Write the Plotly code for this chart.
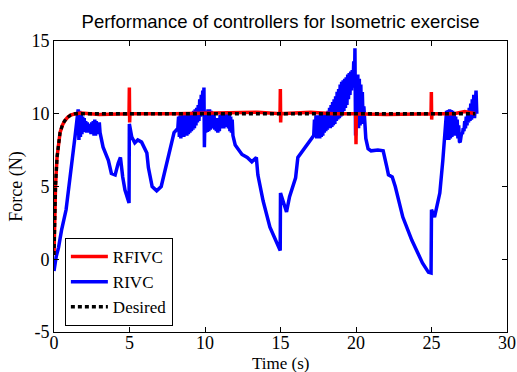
import plotly.graph_objects as go

# ---------------- data ----------------
# RIVC (blue), segment by segment
seg_rise_t = [0.0, 0.15, 0.3, 0.5, 0.8, 1.0, 1.2, 1.4]
seg_rise_f = [-0.8, 0.2, 0.8, 2.0, 3.4, 5.0, 7.0, 8.5]

seg_a_t = [1.60, 1.65, 1.70, 1.75, 1.80, 1.85, 1.90, 1.95, 2.00, 2.05, 2.10, 2.15, 2.20, 2.25,
           2.30, 2.35, 2.40, 2.45, 2.50, 2.55, 2.60, 2.65, 2.70, 2.75, 2.80, 2.85, 2.90, 2.95,
           3.00, 3.05]
seg_a_f = [10.3, 8.2, 10.2, 8.4, 10.0, 8.6, 9.8, 8.75, 9.7, 8.8, 9.5, 8.7, 9.4, 8.7,
           9.3, 8.7, 9.3, 8.6, 9.4, 8.6, 9.5, 8.5, 9.6, 8.5, 9.5, 8.6, 9.4, 8.6,
           9.4, 8.7]

seg_b_t = [3.25, 3.6, 3.8, 4.05, 4.25, 4.4, 4.55, 4.7, 4.97, 4.99, 5.15, 5.35, 5.55, 5.8,
           6.15, 6.25, 6.5, 6.8, 7.1, 7.5, 7.75, 7.95, 8.2]
seg_b_f = [7.7, 6.8, 5.9, 5.8, 6.6, 7.0, 5.65, 4.75, 3.87, 9.3, 8.4, 8.0, 8.2, 8.05,
           7.3, 6.3, 5.0, 4.7, 5.0, 6.8, 8.0, 8.7, 9.0]

seg_c_t = [8.25, 8.30, 8.35, 8.40, 8.45, 8.50, 8.55, 8.60, 8.65, 8.70, 8.75, 8.80, 8.85, 8.90,
           8.95, 9.00, 9.05, 9.10, 9.15, 9.20, 9.25, 9.30, 9.35, 9.40, 9.45, 9.50, 9.55, 9.60,
           9.65, 9.70, 9.75, 9.80, 9.85, 9.90, 9.93, 9.96]
seg_c_f = [9.8, 8.4, 9.9, 8.3, 9.9, 8.4, 9.95, 8.4, 10.0, 8.5, 10.0, 8.5, 10.1, 8.6,
           10.1, 8.7, 10.1, 8.8, 10.1, 8.9, 10.2, 9.0, 10.3, 9.2, 10.4, 9.4, 10.6, 9.5,
           11.0, 9.8, 11.3, 10.0, 11.6, 10.2, 11.8, 7.7]

seg_d_t = [10.00, 10.05, 10.10, 10.15, 10.20, 10.25, 10.30, 10.35, 10.40, 10.45, 10.50, 10.55,
           10.60, 10.65, 10.70, 10.75, 10.80, 10.85, 10.90, 10.95, 11.00, 11.05, 11.10, 11.15,
           11.20, 11.25, 11.30, 11.35, 11.40, 11.45, 11.50, 11.55, 11.60, 11.65, 11.70, 11.75,
           11.80, 11.85]
seg_d_f = [10.0, 8.7, 10.2, 8.75, 10.3, 8.8, 10.3, 8.9, 10.2, 9.0, 10.0, 9.0,
           9.9, 8.9, 9.7, 8.8, 9.6, 8.7, 9.7, 8.8, 9.9, 9.0, 10.1, 9.0,
           10.1, 9.0, 10.1, 9.1, 10.1, 9.2, 10.1, 9.0, 10.0, 8.8, 9.8, 8.7,
           9.6, 8.5]

seg_e_t = [12.0, 12.45, 12.8, 13.1, 13.4, 13.5, 13.65, 13.85, 14.3, 14.75, 14.98, 15.0, 15.4,
           15.6, 16.0, 16.15, 16.75, 17.2]
seg_e_f = [7.85, 7.2, 7.0, 6.7, 7.0, 5.8, 5.0, 4.0, 2.2, 1.1, 0.6, 4.55, 3.25,
           4.3, 5.6, 7.0, 7.85, 8.5]

seg_f_t = [17.25, 17.30, 17.35, 17.40, 17.45, 17.50, 17.55, 17.60, 17.65, 17.70, 17.75, 17.80,
           17.85, 17.90, 17.95, 18.00, 18.05, 18.10, 18.15, 18.20, 18.25, 18.30, 18.35, 18.40,
           18.45, 18.50, 18.55, 18.60, 18.65, 18.70, 18.75, 18.80, 18.85, 18.90, 18.95, 19.00,
           19.05, 19.10, 19.15, 19.20, 19.25, 19.30, 19.35, 19.40, 19.45, 19.50, 19.55, 19.60,
           19.65, 19.70, 19.75, 19.80, 19.85, 19.90, 19.93, 19.97]
seg_f_f = [9.6, 8.4, 9.9, 8.3, 9.9, 8.3, 9.9, 8.3, 10.0, 8.4, 10.0, 8.5,
           10.0, 8.7, 10.05, 8.8, 10.1, 8.9, 10.2, 9.0, 10.4, 9.0, 10.6, 9.1,
           10.8, 9.2, 11.0, 9.3, 11.2, 9.5, 11.5, 9.6, 11.7, 9.7, 12.0, 9.8,
           12.2, 10.0, 12.3, 10.2, 12.4, 10.4, 12.5, 10.6, 12.7, 11.0, 12.8, 11.3,
           12.9, 11.6, 13.0, 11.8, 13.6, 12.0, 14.5, 8.5]

seg_g_t = [20.02, 20.07, 20.12, 20.17, 20.22, 20.27, 20.32, 20.37, 20.42, 20.47, 20.52, 20.57,
           20.65, 20.8, 21.0, 21.45, 21.8, 22.05, 22.15, 22.4, 22.6, 23.1, 23.7, 24.4, 24.8,
           24.97, 25.0, 25.2, 25.55, 25.75, 25.9]
seg_g_f = [12.6, 9.0, 12.7, 9.0, 12.4, 9.2, 12.0, 9.3, 11.5, 9.4, 10.5, 9.3,
           8.3, 7.6, 7.45, 7.5, 7.45, 6.3, 5.8, 5.65, 5.0, 2.9, 1.3, -0.25, -0.9,
           -0.95, 3.4, 2.9, 4.55, 6.8, 8.9]

seg_h_t = [25.95, 26.00, 26.05, 26.10, 26.15, 26.20, 26.25, 26.30, 26.35, 26.40, 26.45, 26.50,
           26.55, 26.60, 26.65, 26.70, 26.75, 26.80, 26.85, 26.90, 26.95, 27.00, 27.05, 27.10,
           27.15, 27.20, 27.25, 27.30, 27.35, 27.40, 27.45, 27.50, 27.55, 27.60, 27.65, 27.70,
           27.75, 27.80, 27.85, 27.90, 27.95, 28.00]
seg_h_f = [9.6, 10.2, 8.2, 10.25, 8.2, 10.3, 8.3, 10.25, 8.4, 10.2, 8.5, 10.0,
           8.6, 9.8, 8.5, 9.6, 8.3, 9.2, 8.1, 8.05, 8.4, 8.7, 8.6, 9.0,
           8.8, 9.5, 9.0, 9.8, 9.2, 10.0, 9.4, 10.4, 9.5, 10.7, 9.6, 11.0,
           9.7, 11.3, 9.7, 11.5, 11.6, 10.0]

rivc_t = seg_rise_t + seg_a_t + seg_b_t + seg_c_t + seg_d_t + seg_e_t + seg_f_t + seg_g_t + seg_h_t
rivc_f = seg_rise_f + seg_a_f + seg_b_f + seg_c_f + seg_d_f + seg_e_f + seg_f_f + seg_g_f + seg_h_f

# RFIVC (red)
rfivc_t = [0.0, 0.05, 0.1, 0.2, 0.3, 0.4, 0.55, 0.7, 0.9, 1.1, 1.4, 1.8, 3.0,
           4.97, 4.99, 5.01, 5.03, 8.0, 11.0, 13.5, 14.97, 14.99, 15.01, 15.03,
           17.0, 18.5, 19.98, 20.0, 20.02, 22.0, 24.97, 24.99, 25.01, 25.03, 26.5, 27.2, 27.9]
rfivc_f = [0.3, 3.0, 5.0, 7.0, 8.0, 8.7, 9.2, 9.5, 9.75, 9.9, 10.0, 10.05, 9.95,
           10.0, 11.8, 9.4, 10.0, 10.0, 10.05, 10.1, 10.0, 11.7, 9.4, 10.0,
           10.1, 10.0, 10.0, 7.9, 10.0, 9.95, 10.0, 11.5, 9.6, 10.0, 10.0, 10.15, 10.0]

# Desired (black dotted)
desired_t = [0.0, 0.05, 0.1, 0.2, 0.3, 0.4, 0.55, 0.7, 0.9, 1.1, 1.4, 1.8, 27.9]
desired_f = [0.3, 3.0, 5.0, 7.0, 8.0, 8.7, 9.2, 9.5, 9.75, 9.9, 10.0, 10.0, 10.0]

x_ticks = [0, 5, 10, 15, 20, 25, 30]
y_ticks = [-5, 0, 5, 10, 15]

# ---------------- figure ----------------
SERIF = "Liberation Serif"
SANS = "Liberation Sans"

fig = go.Figure()
fig.add_trace(go.Scatter(x=rivc_t, y=rivc_f, mode="lines", name="RIVC",
                         line=dict(color="#0000ff", width=3.5), legendrank=2))
fig.add_trace(go.Scatter(x=rfivc_t, y=rfivc_f, mode="lines", name="RFIVC",
                         line=dict(color="#ff0000", width=3.5), legendrank=1))
fig.add_trace(go.Scatter(x=desired_t, y=desired_f, mode="lines", name="Desired",
                         line=dict(color="#000000", width=3.3, dash="4px,3px"), legendrank=3))

axis_common = dict(showgrid=False, zeroline=False, showline=True, linecolor="black",
                   linewidth=1, ticks="inside", ticklen=5, tickcolor="black",
                   mirror="ticks", automargin=False,
                   tickfont=dict(family=SERIF, size=18, color="black"))

fig.update_layout(
    width=517, height=372,
    margin=dict(l=54, r=10, t=41, b=40, autoexpand=False),
    paper_bgcolor="white", plot_bgcolor="white",
    font=dict(family=SERIF, size=18, color="black"),
    title=dict(text="Performance of controllers for Isometric exercise",
               font=dict(family=SANS, size=18.5, color="black"),
               x=(54 + 453 / 2) / 517, xanchor="center", y=1 - 22 / 372, yanchor="middle"),
    xaxis=dict(range=[0, 30], tickvals=x_ticks, ticktext=[str(v) for v in x_ticks],
               ticklabelstandoff=-6,
               **axis_common),
    yaxis=dict(range=[-5, 15], tickvals=y_ticks, ticktext=[str(v) for v in y_ticks],
               title=dict(text="Force (N)", font=dict(family=SERIF, size=18, color="black"),
                          standoff=4),
               **axis_common),
    legend=dict(x=0.024, y=(332 - 326) / 291, xanchor="left", yanchor="bottom",
                bgcolor="white", bordercolor="black", borderwidth=1,
                font=dict(family=SERIF, size=17, color="black"),
                itemwidth=37,
                traceorder="normal", tracegroupgap=0),
    showlegend=True,
)

# x-axis title placed as an annotation so it can sit at the very bottom edge
fig.add_annotation(text="Time (s)", xref="paper", yref="paper",
                   x=0.5, y=-(363 - 332) / 291, xanchor="center", yanchor="middle",
                   showarrow=False, font=dict(family=SERIF, size=17, color="black"))

fig.write_html("out.html")
